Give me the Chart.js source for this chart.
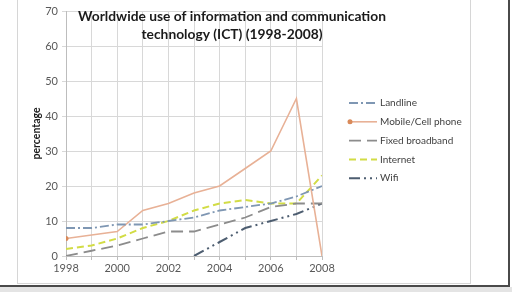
<!DOCTYPE html>
<html><head><meta charset="utf-8">
<script src="https://cdn.jsdelivr.net/npm/chart.js@4.4.0/dist/chart.umd.min.js"></script>
<style>
html,body{margin:0;padding:0;background:#ffffff;width:512px;height:292px;overflow:hidden;}
#frame{position:absolute;left:17px;top:-2px;width:452px;height:284px;border:1px solid #d6d6d6;background:#fff;}
#outerR{position:absolute;left:508px;top:0;width:2px;height:287px;background:#4a4a4a;}
#outerB{position:absolute;left:0;top:285px;width:510px;height:2px;background:#4a4a4a;}
#shade{position:absolute;left:0;top:287px;width:512px;height:5px;background:#e4e4e4;}
#wrap{position:absolute;left:0;top:0;width:512px;height:292px;}
</style></head>
<body>
<div id="frame"></div><div id="outerR"></div><div id="outerB"></div><div id="shade"></div>
<div id="wrap"><canvas id="c" width="512" height="292"></canvas></div>
<script>
const years = [1998,1999,2000,2001,2002,2003,2004,2005,2006,2007,2008];
const landline = [8,8,9,9,10,11,13,14,15,17,20];
const mobile = [5,6,7,13,15,18,20,25,30,45,0];
const fixedBroadband = [0,1.5,3,5,7,7,9,11,14,15,15];
const internet = [2,3,5,8,10,13,15,16,15,15,23];
const wifi = [null,null,null,null,null,0,4,8,10,12,15];
const yTicks = [0,10,20,30,40,50,60,70];
const xLabels = [1998,2000,2002,2004,2006,2008];
const seriesNames = ['Landline','Mobile/Cell phone','Fixed broadband','Internet','Wifi'];
const titleLines = ['Worldwide use of information and communication','technology (ICT) (1998-2008)'];

const FONT = 'Lato, "Open Sans", sans-serif';

const titlePlugin = {
  id:'ictTitle',
  afterDraw(chart){
    const ctx = chart.ctx; ctx.save();
    ctx.fillStyle = '#1a1a1a';
    ctx.font = 'bold 13.8px ' + FONT;
    ctx.textAlign = 'center'; ctx.textBaseline = 'middle';
    ctx.fillText(titleLines[0], 232, 17);
    ctx.fillText(titleLines[1], 232, 35);
    ctx.restore();
  }
};
const legendPlugin = {
  id:'ictLegend',
  afterDraw(chart){
    const ctx = chart.ctx; ctx.save();
    chart.data.datasets.forEach((ds,i)=>{
      const y = 103 + i*18.8;
      ctx.strokeStyle = ds.borderColor; ctx.lineWidth = ds.borderWidth;
      ctx.setLineDash(ds.borderDash || []);
      ctx.beginPath(); ctx.moveTo(349,y); ctx.lineTo(377,y); ctx.stroke();
      ctx.setLineDash([]);
      if (ds.legendMarker){
        ctx.fillStyle = ds.pointBackgroundColor;
        ctx.beginPath(); ctx.arc(350,y,2.5,0,Math.PI*2); ctx.fill();
      }
      ctx.fillStyle = '#3f3f3f';
      ctx.font = '10px ' + FONT;
      ctx.textAlign='left'; ctx.textBaseline='middle';
      ctx.fillText(ds.label, 380, y);
    });
    ctx.restore();
  }
};

new Chart(document.getElementById('c'), {
  type:'line',
  data:{
    labels: years,
    datasets:[
      {label:seriesNames[0], data:landline, borderColor:'#7f97b3', borderWidth:1.8, borderDash:[9,3,2,3], pointRadius:0, fill:false, tension:0},
      {label:seriesNames[1], data:mobile, borderColor:'#e8b196', borderWidth:1.6, pointRadius:[2.5,0,0,0,0,0,0,0,0,0,0], pointBackgroundColor:'#d98a5a', pointBorderWidth:0, legendMarker:true, fill:false, tension:0},
      {label:seriesNames[2], data:fixedBroadband, borderColor:'#8c8c8c', borderWidth:1.8, borderDash:[12,6], pointRadius:0, fill:false, tension:0},
      {label:seriesNames[3], data:internet, borderColor:'#d2dc45', borderWidth:2, borderDash:[7,4], pointRadius:0, fill:false, tension:0},
      {label:seriesNames[4], data:wifi, borderColor:'#4d5d70', borderWidth:2, borderDash:[11,4,2,4,2,4], pointRadius:0, fill:false, tension:0}
    ]
  },
  options:{
    responsive:false, animation:false,
    layout:{padding:{left:0, right:190, top:11, bottom:6}},
    plugins:{legend:{display:false}, tooltip:{enabled:false}, title:{display:false}},
    scales:{
      x:{type:'linear', min:1998, max:2008,
         afterFit(s){ s.height = 30; },
         afterBuildTicks(s){ s.ticks = years.map(v=>({value:v})); },
         ticks:{autoSkip:false, maxRotation:0, padding:2, color:'#595959', font:{family:FONT, size:11},
                callback:(v)=> xLabels.includes(v) ? String(v) : ''},
         grid:{color:'#d8d8d8', lineWidth:1, tickLength:4, tickColor:'#bdbdbd'},
         border:{color:'#bdbdbd'}},
      y:{min:0, max:70,
         afterFit(s){ s.width = 66; },
         afterBuildTicks(s){ s.ticks = yTicks.map(v=>({value:v})); },
         ticks:{padding:4, color:'#595959', font:{family:FONT, size:11}},
         grid:{color:'#d8d8d8', lineWidth:1, tickLength:4, tickColor:'#d8d8d8'},
         border:{color:'#bdbdbd'},
         title:{display:true, text:'percentage', color:'#1a1a1a', font:{family:FONT, size:10.5, weight:'bold'}, padding:{top:30, bottom:0}}}
    }
  },
  plugins:[titlePlugin, legendPlugin]
});
</script>
</body></html>
